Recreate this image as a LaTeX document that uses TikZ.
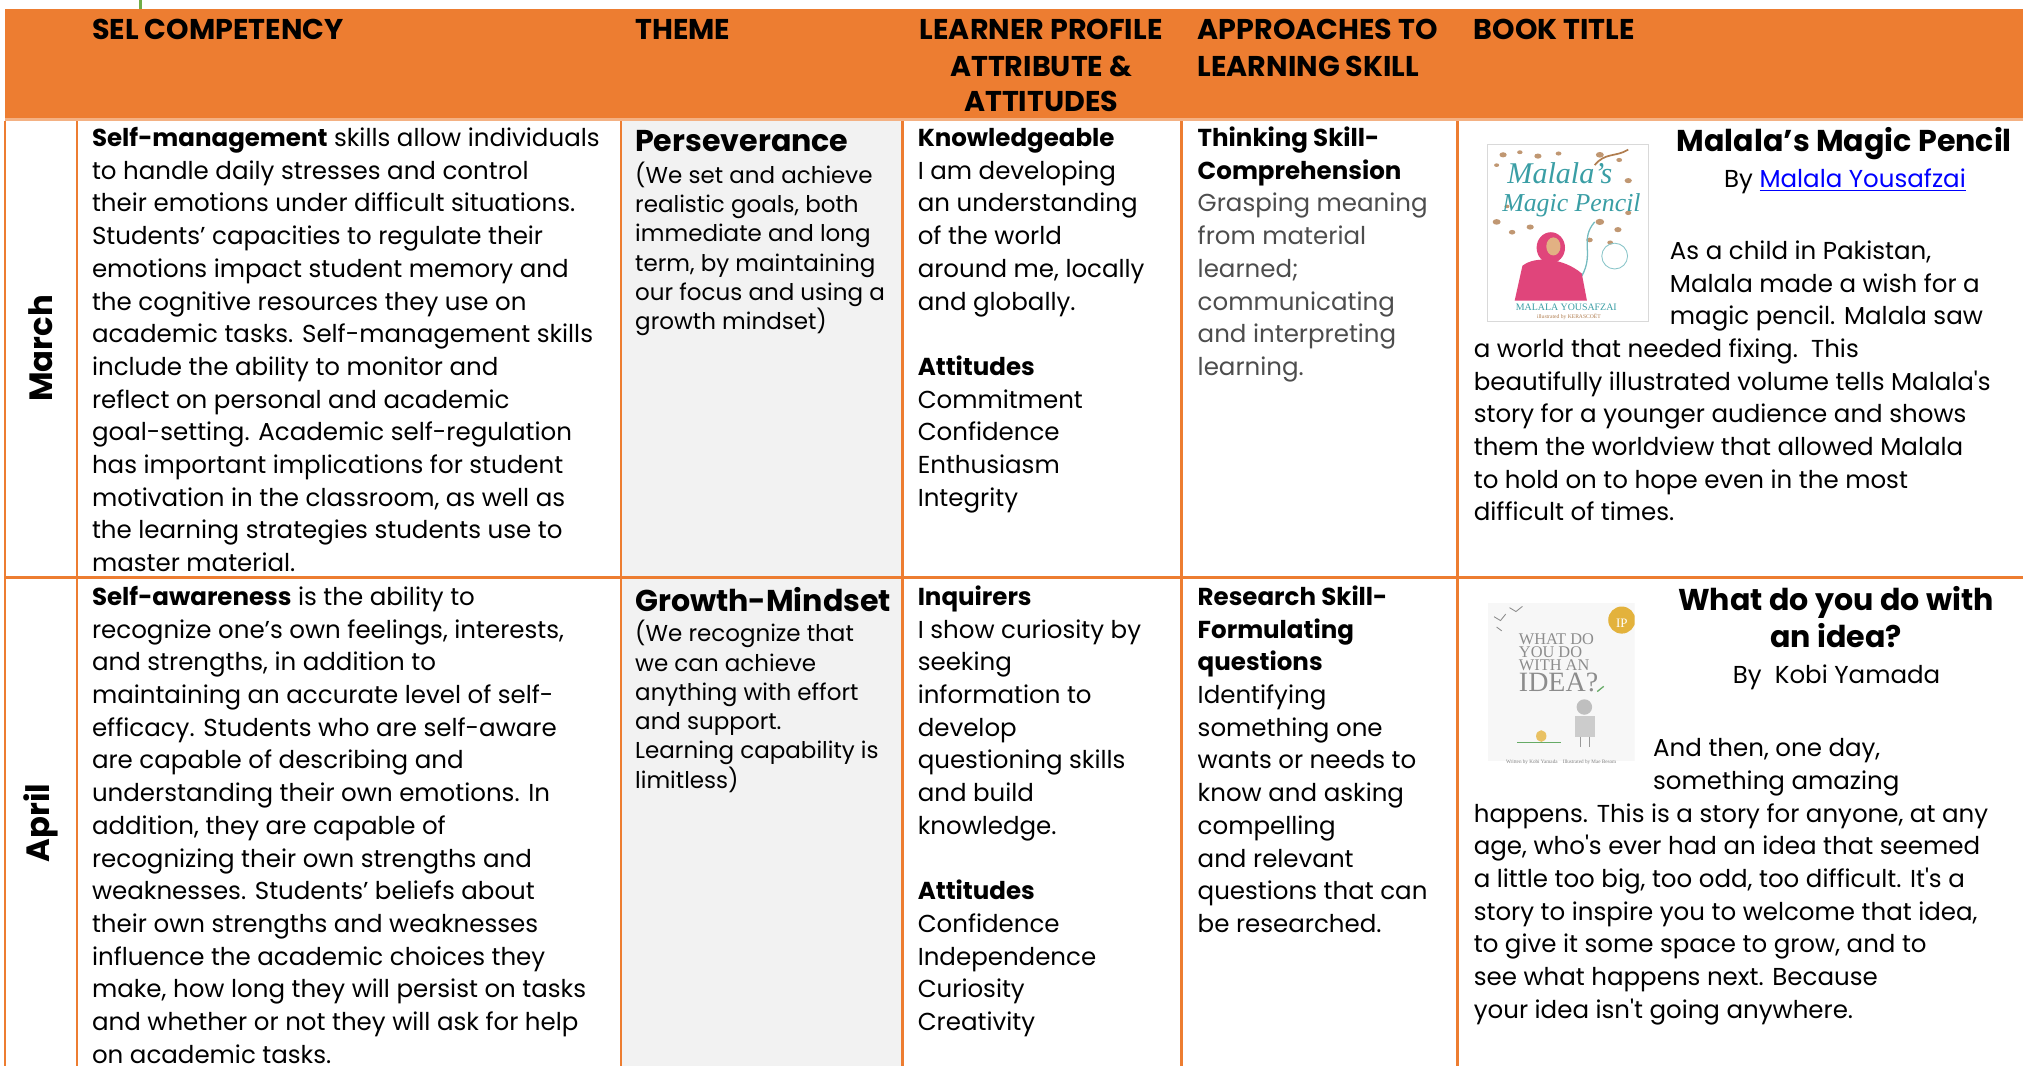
\documentclass[tikz,border=0pt]{standalone}
\usepackage{fontspec}
\setmainfont{Poppins}
\newfontfamily\hdrfont{Poppins}
\newfontfamily\covserif{Liberation Serif}
\definecolor{ora}{HTML}{ED7D31}
\definecolor{oralight}{HTML}{F4B183}
\definecolor{themegray}{HTML}{F2F2F2}
\definecolor{graytxt}{HTML}{4D4D4D}
\definecolor{linkblue}{HTML}{0000FF}
\definecolor{tickgreen}{HTML}{70AD47}
\definecolor{teal1}{HTML}{3A9EA5}
\definecolor{brown1}{HTML}{B07D4F}
\definecolor{pink1}{HTML}{E0457B}
\definecolor{gold1}{HTML}{E3B23C}
\newcommand\bodyf{\fontsize{11.4}{13}\selectfont}
\newcommand\descf{\fontsize{10.7}{12}\selectfont}
\newcommand\titlef{\fontsize{14}{16}\selectfont\bfseries}
\newcommand\hdrf{\hdrfont\fontsize{13.3}{15}\selectfont\bfseries}
\newcommand\monthf{\fontsize{15}{17}\selectfont\bfseries}
% #1 name prefix, #2 x, #3 first baseline, #4 step, #5 font, #6 list of lines
\newcommand\txtlines[6]{%
  \foreach \tl [count=\ti] in {#6}{%
    \node[txt, font=#5] (#1\ti) at (#2,{#3+(\ti-1)*#4}) {\tl};}}
\begin{document}
\begin{tikzpicture}[x=0.6pt,y=-0.6pt,
  txt/.style={anchor=base west, inner sep=0pt, text=black, text height=0.72em, text depth=0.18em},
  ctxt/.style={anchor=base, inner sep=0pt, text=black, text height=0.72em, text depth=0.18em},
  hdr/.style={anchor=base west, inner sep=0pt, text=black, font=\hdrf, text height=0.72em, text depth=0.1em},
  rule/.style={draw=ora, line width=1.3pt},
  month/.style={inner sep=0pt, font=\monthf, rotate=90},
  covtxt/.style={inner sep=0pt, text height=0.7em, text depth=0.1em}]
\useasboundingbox (0,0) rectangle (1568,826);
\fill[white] (0,0) rectangle (1568,826);
% green tick at top
\fill[tickgreen] (107.8,0) rectangle (110.3,7);
% header band
\fill[ora] (3.9,7) rectangle (1568,91.5);
\fill[oralight] (3.9,91.5) rectangle (1568,93.8);
% theme column shading
\fill[themegray] (481.3,93.8) rectangle (699.5,826);
% grid lines
\draw[rule] (3.9,93.8) -- (3.9,826);
\draw[rule] (59.7,93.8) -- (59.7,826);
\draw[rule] (481.3,93.8) -- (481.3,826);
\draw[rule] (699.5,93.8) -- (699.5,826);
\draw[rule] (915.8,93.8) -- (915.8,826);
\draw[rule] (1129.8,93.8) -- (1129.8,826);
\draw[rule] (3.9,447.7) -- (1568,447.7);
% header texts
\node[hdr] (h1) at (71,31) {SEL COMPETENCY};
\node[hdr] (h2) at (492,31) {THEME};
\node[hdr, anchor=base] (h3a) at (807,31) {LEARNER PROFILE};
\node[hdr, anchor=base] (h3b) at (807,59) {ATTRIBUTE \&};
\node[hdr, anchor=base] (h3c) at (807,86.6) {ATTITUDES};
\node[hdr] (h4a) at (928,31) {APPROACHES TO};
\node[hdr] (h4b) at (928,59) {LEARNING SKILL};
\node[hdr] (h5) at (1142,31) {BOOK TITLE};
% month labels
\node[month] (mar) at (31.5,270) {March};
\node[month] (apr) at (31.5,638) {April};
% ---------------- March row ----------------
\txtlines{sa}{71}{113.6}{25.34}{\bodyf}{%
{\textbf{Self-management} skills allow individuals},
{to handle daily stresses and control},
{their emotions under difficult situations.},
{Students’ capacities to regulate their},
{emotions impact student memory and},
{the cognitive resources they use on},
{academic tasks. Self-management skills},
{include the ability to monitor and},
{reflect on personal and academic},
{goal-setting. Academic self-regulation},
{has important implications for student},
{motivation in the classroom, as well as},
{the learning strategies students use to},
{master material.}}
\node[txt, font=\titlef] (ta) at (492,117.7) {Perseverance};
\txtlines{tda}{492}{142}{22.7}{\descf}{%
{(We set and achieve},
{realistic goals, both},
{immediate and long},
{term, by maintaining},
{our focus and using a},
{growth mindset)}}
\txtlines{la}{711}{113.6}{25.34}{\bodyf}{%
{\textbf{Knowledgeable}},
{I am developing},
{an understanding},
{of the world},
{around me, locally},
{and globally.},
{},
{\textbf{Attitudes}},
{Commitment},
{Confidence},
{Enthusiasm},
{Integrity}}
\txtlines{aa}{928}{113.6}{25.34}{\bodyf}{%
{\textbf{Thinking Skill-}},
{\textbf{Comprehension}},
{\color{graytxt}Grasping meaning},
{\color{graytxt}from material},
{\color{graytxt}learned;},
{\color{graytxt}communicating},
{\color{graytxt}and interpreting},
{\color{graytxt}learning.}}
% book 1
\node[ctxt, font=\titlef] (bta) at (1429.5,117.6) {Malala’s Magic Pencil};
\node[ctxt, font=\bodyf] (bya) at (1430,145) {By {\color{linkblue}\underline{Malala Yousafzai}}};
\txtlines{bia}{1294}{201}{25.34}{\bodyf}{%
{As a child in Pakistan,},
{Malala made a wish for a},
{magic pencil. Malala saw}}
\txtlines{bba}{1142}{277}{25.34}{\bodyf}{%
{a world that needed fixing.\ \ This},
{beautifully illustrated volume tells Malala\textquotesingle s},
{story for a younger audience and shows},
{them the worldview that allowed Malala},
{to hold on to hope even in the most},
{difficult of times.}}
% Malala cover
\draw[draw=black!15, fill=white, line width=0.4pt] (1153,112) rectangle (1278,249);
\foreach \px/\py/\r in {1165/120/2,1178/118/1.5,1192/121/2,1240/120/2.2,1255/124/1.6,1262/140/2,1160/172/2.2,1172/180/1.8,1186/176/2,1240/172/2.4,1254/178/2,1262/165/1.7,1168/160/1.4,1248/188/1.6,1232/186/1.8,1160/128/1.4,1208/119/1.6}{
  \fill[brown1!80] (\px,\py) ellipse ({\r*1.4} and \r);}
\draw[brown1, line width=0.8pt] (1236,128) .. controls (1244,118) and (1252,122) .. (1262,116);
\node[covtxt, font=\covserif\itshape\fontsize{14}{14}\selectfont, text=teal1] (cm1) at (1209,137) {Malala’s};
\node[covtxt, font=\covserif\itshape\fontsize{12}{12}\selectfont, text=teal1] (cm2) at (1218,159) {Magic Pencil};
\draw[teal1!70, line width=0.6pt] (1226,214) .. controls (1236,196) and (1224,186) .. (1236,172);
\fill[pink1] (1202,192) ellipse (11 and 12);
\fill[pink1] (1174,233) -- (1180,206) .. controls (1190,198) and (1212,200) .. (1226,212) -- (1230,233) -- cycle;
\fill[brown1!60!orange!60] (1204,191) ellipse (5.5 and 7);
\draw[teal1!60, line width=0.4pt] (1251.5,198.5) circle (10);
\node[covtxt, font=\covserif\fontsize{4.6}{5}\selectfont, text=teal1] (cm3) at (1214,236) {MALALA YOUSAFZAI};
\node[covtxt, font=\covserif\fontsize{2.6}{3}\selectfont, text=brown1] (cm4) at (1216,241.5) {illustrated by KERASCOËT};
% ---------------- April row ----------------
\txtlines{sb}{71}{469.3}{25.34}{\bodyf}{%
{\textbf{Self-awareness} is the ability to},
{recognize one’s own feelings, interests,},
{and strengths, in addition to},
{maintaining an accurate level of self-},
{efficacy. Students who are self-aware},
{are capable of describing and},
{understanding their own emotions. In},
{addition, they are capable of},
{recognizing their own strengths and},
{weaknesses. Students’ beliefs about},
{their own strengths and weaknesses},
{influence the academic choices they},
{make, how long they will persist on tasks},
{and whether or not they will ask for help},
{on academic tasks.}}
\node[txt, font=\titlef] (tb) at (492,474) {Growth-Mindset};
\txtlines{tdb}{492}{497.4}{22.7}{\descf}{%
{(We recognize that},
{we can achieve},
{anything with effort},
{and support.},
{Learning capability is},
{limitless)}}
\txtlines{lb}{711}{469.3}{25.34}{\bodyf}{%
{\textbf{Inquirers}},
{I show curiosity by},
{seeking},
{information to},
{develop},
{questioning skills},
{and build},
{knowledge.},
{},
{\textbf{Attitudes}},
{Confidence},
{Independence},
{Curiosity},
{Creativity}}
\txtlines{ab}{928}{469.3}{25.34}{\bodyf}{%
{\textbf{Research Skill-}},
{\textbf{Formulating}},
{\textbf{questions}},
{Identifying},
{something one},
{wants or needs to},
{know and asking},
{compelling},
{and relevant},
{questions that can},
{be researched.}}
% book 2
\node[ctxt, font=\titlef] (btb1) at (1423,473) {What do you do with};
\node[ctxt, font=\titlef] (btb2) at (1423,502) {an idea?};
\node[ctxt, font=\bodyf] (byb) at (1423.5,530) {By\ \ Kobi Yamada};
\txtlines{bib}{1281}{586.5}{25.34}{\bodyf}{%
{And then, one day,},
{something amazing}}
\txtlines{bbb}{1142}{637.2}{25.34}{\bodyf}{%
{happens. This is a story for anyone, at any},
{age, who\textquotesingle s ever had an idea that seemed},
{a little too big, too odd, too difficult. It\textquotesingle s a},
{story to inspire you to welcome that idea,},
{to give it some space to grow, and to},
{see what happens next. Because},
{your idea isn\textquotesingle t going anywhere.}}
% Idea cover
\begin{scope}
\clip (1153,467) rectangle (1267,590);
\fill[black!3] (1153,467) rectangle (1267,590);
\fill[gold1] (1257,480.6) circle (10.5);
\node[covtxt, font=\covserif\fontsize{6}{6}\selectfont, text=white] (ip) at (1257,481) {IP};
\end{scope}
\draw[black!45, line width=0.4pt] (1158,478) -- (1163,481) -- (1167,476);
\draw[black!45, line width=0.4pt] (1170,471) -- (1175,474) -- (1180,470);
\draw[black!45, line width=0.4pt] (1160,486) -- (1164,489);
\node[anchor=north west, inner sep=0pt, align=left, text=black!45,
  font=\covserif\fontsize{7.6}{5.9}\selectfont] (iw) at (1177,491)
  {WHAT DO\\YOU DO\\WITH AN\\{\fontsize{13}{9}\selectfont IDEA?}};
\fill[black!25] (1228,548) circle (6);
\fill[black!20] (1221,555) rectangle (1236,571);
\draw[black!40, line width=0.6pt] (1225,571) -- (1225,579) (1232,571) -- (1232,579);
\fill[gold1!80] (1194.6,570.5) ellipse (4 and 4.5);
\draw[green!45!black!60, line width=0.8pt] (1176,575.5) -- (1210,575.5);
\draw[green!45!black!60, line width=0.6pt] (1238,536) -- (1243,532);
\node[covtxt, font=\covserif\fontsize{2.4}{3}\selectfont, text=black!50] (iwb) at (1210,586.6) {Written by Kobi Yamada\quad Illustrated by Mae Besom};
\end{tikzpicture}
\end{document}
